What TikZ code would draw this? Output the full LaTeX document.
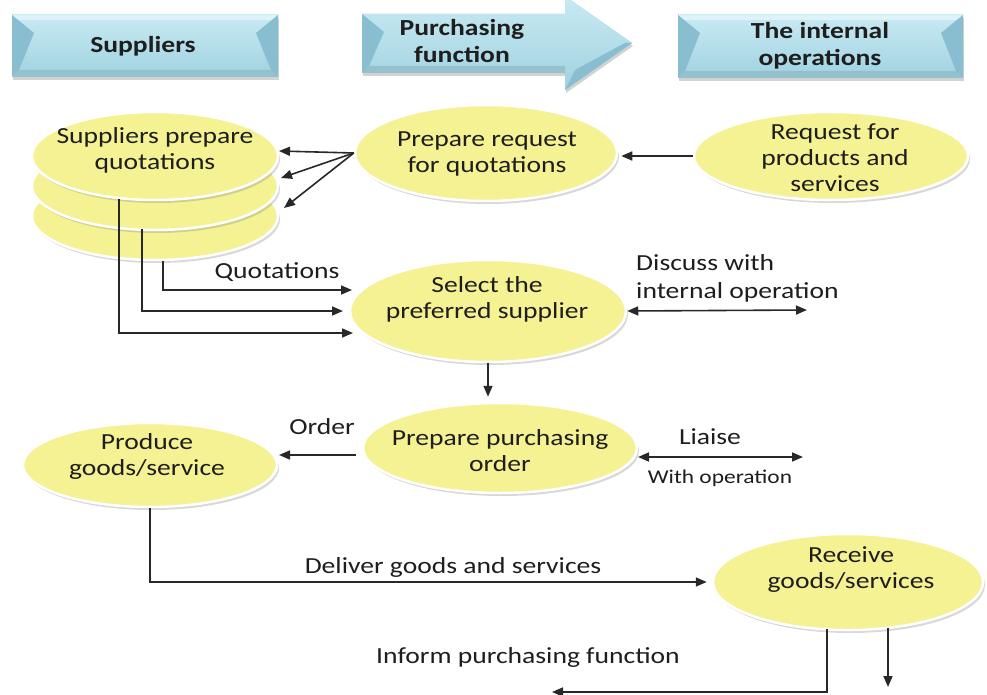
\documentclass[tikz,border=0pt]{standalone}
\usepackage{fontspec}
\setmainfont{Carlito}[FakeStretch=1.2]
\usetikzlibrary{shapes.geometric,arrows.meta,shadows,calc}
\definecolor{ylw}{RGB}{244,242,146}
\definecolor{bnr}{RGB}{160,210,224}
\definecolor{bnrlt}{RGB}{200,234,243}
\definecolor{bnrdk}{RGB}{136,190,208}
\definecolor{ink}{RGB}{30,30,30}
\definecolor{ln}{RGB}{40,40,40}
\newcommand{\mybevel}[4]{%
  \fill[bnr, drop shadow={opacity=0.35, shadow xshift=1pt, shadow yshift=-3pt}] (#1,#2) rectangle (#3,#4);
  \shade[top color=bnrlt, bottom color=bnr] (#1,#2) rectangle (#3,#4);
  \fill[bnrlt!60!white] (#1,#2) -- (#3,#2) -- (#3-6,#2+5) -- (#1+6,#2+5) -- cycle;
  \fill[bnrdk] (#1,#2) -- (#1+22,#2+18) -- (#1+7,#4-7) -- (#1,#4) -- cycle;
  \fill[bnrdk] (#3,#2) -- (#3-22,#2+18) -- (#3-7,#4-7) -- (#3,#4) -- cycle;
  \fill[bnr!92!black] (#1,#4) -- (#1+7,#4-7) -- (#3-7,#4-7) -- (#3,#4) -- cycle;
}
\begin{document}
\begin{tikzpicture}[x=1pt,y=-1pt,
 el/.style={ellipse, fill=ylw, draw=white, line width=2.5pt, inner sep=0pt,
   drop shadow={opacity=0.3, shadow xshift=2pt, shadow yshift=-3pt}},
 txt/.style={font=\fontsize{23}{26}\selectfont, text=ink, align=center, inner sep=0pt},
 btxt/.style={font=\fontsize{23}{27}\selectfont\bfseries, text=ink, align=center, inner sep=0pt},
 lbl/.style={font=\fontsize{23}{28}\selectfont, text=ink, inner sep=0pt},
 slbl/.style={font=\fontsize{19.5}{22}\selectfont, text=ink, inner sep=0pt},
 arr/.style={draw=ln, line width=1.6pt, -{Triangle[length=11pt,width=9pt]}},
 darr/.style={draw=ln, line width=1.6pt, {Triangle[length=11pt,width=9pt]}-{Triangle[length=11pt,width=9pt]}},
]
\useasboundingbox (0,0) rectangle (987,695);
\fill[white] (0,0) rectangle (987,695);

% banners
\mybevel{12}{15}{278}{77}
\mybevel{678}{15}{963}{78}
\path[drop shadow={opacity=0.35, shadow xshift=1pt, shadow yshift=-3pt}, fill=bnr]
  (362,14) -- (565,14) -- (565,-4) -- (632,43) -- (565,90) -- (565,73) -- (362,73) -- cycle;
\shade[top color=bnrlt, bottom color=bnr]
  (362,14) -- (565,14) -- (565,-4) -- (632,43) -- (565,90) -- (565,73) -- (362,73) -- cycle;
\fill[bnrdk] (362,14) -- (384,32) -- (369,66) -- (362,73) -- cycle;
\fill[bnr!92!black] (362,73) -- (369,66) -- (565,66) -- (565,73) -- cycle;
\fill[bnrdk] (565,90) -- (575,70) -- (625,43) -- (632,43) -- cycle;
\node[btxt] (supT) at (143,46) {Suppliers};
\node[btxt] (purT) at (462,41) {Purchasing\\function};
\node[btxt] (opsT) at (820,46) {The internal\\operations};

% ellipses
\node[el, minimum width=246, minimum height=88] (s3) at (155,216) {};
\node[el, minimum width=246, minimum height=88] (s2) at (155,186) {};
\node[el, minimum width=246, minimum height=88] (s1) at (155,156) {};
\node[txt] (s1t) at (155,150) {Suppliers prepare\\quotations};

\node[el, minimum width=262, minimum height=96] (req) at (486,153) {};
\node[txt] (reqt) at (487,154) {Prepare request\\for quotations};

\node[el, minimum width=274, minimum height=88] (rfp) at (831,156) {};
\node[txt] (rfpt) at (835,158) {Request for\\products and\\services};

\node[el, minimum width=276, minimum height=102] (sel) at (488,311) {};
\node[txt] (selt) at (487,299) {Select the\\preferred supplier};

\node[el, minimum width=274, minimum height=90] (ord) at (500,448) {};
\node[txt] (ordt) at (500,451) {Prepare purchasing\\order};

\node[el, minimum width=254, minimum height=84] (prod) at (150,465) {};
\node[txt] (prodt) at (147,456) {Produce\\goods/service};

\node[el, minimum width=270, minimum height=96] (rec) at (848,582) {};
\node[txt] (rect) at (851,570) {Receive\\goods/services};

% coordinates
\coordinate (t1) at (279,151);
\coordinate (t2) at (281,178);
\coordinate (t3) at (284,208);
\coordinate (qa1) at (119,199);
\coordinate (qb1) at (353,333);
\coordinate (qa2) at (142,229);
\coordinate (qb2) at (343,311);
\coordinate (qa3) at (163,261);
\coordinate (qb3) at (352,290);
\coordinate (dsc) at (807,310);
\coordinate (liaL) at (638,457);
\coordinate (liaR) at (803,457);
\coordinate (ow) at (356,455);
\coordinate (pe) at (279,455);
\coordinate (rb1) at (827,629);
\coordinate (inf) at (552,692);
\coordinate (rb2) at (888,628);
\coordinate (dn) at (888,687);

% connectors
\draw[arr, shorten >=3pt] (rfp.west) -- (rfp.west -| req.east);
\draw[arr] (req.west) -- (t1);
\draw[arr] (req.west) -- (t2);
\draw[arr] (req.west) -- (t3);
\draw[arr] (qa1) |- (qb1);
\draw[arr] (qa2) |- (qb2);
\draw[arr] (qa3) |- (qb3);
\node[lbl] (quot) at (277,272) {Quotations};
\draw[darr] (sel.east) -- (dsc);
\node[lbl, anchor=west, align=left] (dsct) at (636,278) {Discuss with\\internal operation};
\draw[arr, shorten >=5pt] (sel.south) -- (sel.south |- ord.north);
\draw[darr] (liaL) -- (liaR);
\node[lbl] (liat) at (710,437) {Liaise};
\node[slbl] (wop) at (720,478) {With operation};
\draw[arr] (ow) -- (pe);
\node[lbl] (ordl) at (322,427) {Order};
\draw[arr, shorten >=5pt] (prod.south) |- (rec.west);
\node[lbl] (dlv) at (453,567) {Deliver goods and services};
\draw[arr] (rb1) |- (inf);
\node[lbl] (infl) at (528,657) {Inform purchasing function};
\draw[arr] (rb2) -- (dn);
\end{tikzpicture}
\end{document}
